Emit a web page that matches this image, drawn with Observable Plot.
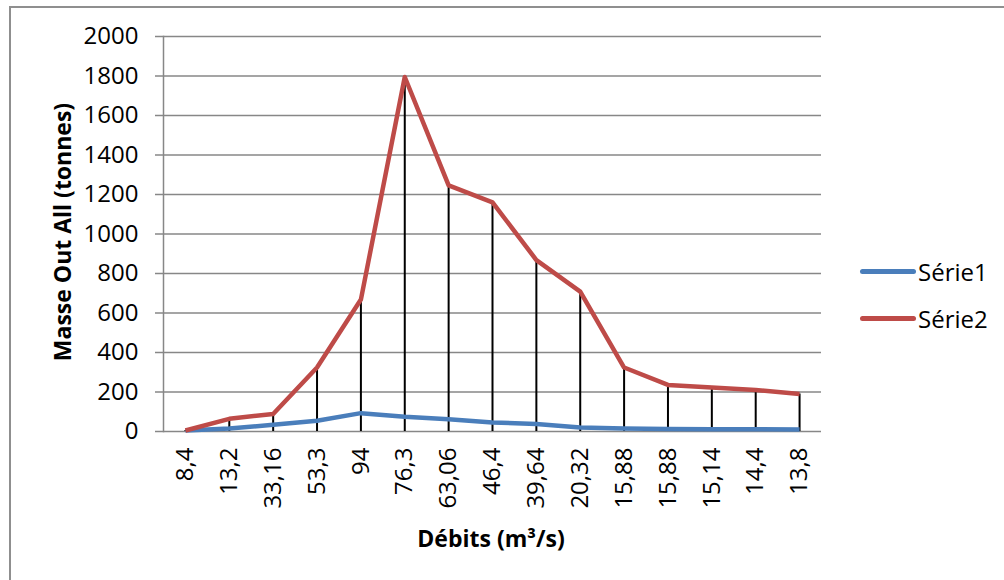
<!DOCTYPE html>
<html>
<head>
<meta charset="utf-8">
<script src="https://cdn.jsdelivr.net/npm/d3@7"></script>
<script src="https://cdn.jsdelivr.net/npm/@observablehq/plot@0.6"></script>
<style>
  html, body { margin: 0; padding: 0; background: #fff; }
  #wrap { position: relative; width: 1004px; height: 580px; overflow: hidden; font-family: "Open Sans", Lato, sans-serif; }
  #border { position: absolute; left: 9px; top: 6px; width: 1100px; height: 700px; border-left: 2px solid #8f8f8f; border-top: 2px solid #8f8f8f; }
  #chart { position: absolute; left: 0; top: 0; }
  .ttl { position: absolute; font-weight: bold; font-size: 23px; color: #000; white-space: nowrap; line-height: 1; }
  #xt { left: 491px; top: 538px; transform: translate(-50%, -50%); }
  #yt { left: 62px; top: 232px; transform: translate(-50%, -50%) rotate(-90deg); }
  #legend { position: absolute; left: 860px; top: 248px; font-size: 24px; }
  .li { display: flex; align-items: center; height: 47px; }
  .sw { width: 56px; height: 5px; border-radius: 3px; margin-right: 2px; }
</style>
</head>
<body>
<div id="wrap">
  <div id="border"></div>
  <div id="chart"></div>
  <div class="ttl" id="yt">Masse Out All (tonnes)</div>
  <div class="ttl" id="xt">Débits (m³/s)</div>
  <div id="legend"></div>
</div>
<script>
const debits = ["8,4","13,2","33,16","53,3","94","76,3","63,06","46,4","39,64","20,32","15,88","15,88","15,14","14,4","13,8"];
const serie1 = [5, 15, 34, 54, 93, 75, 62, 46, 38, 20, 15, 13, 12, 11, 10];
const serie2 = [5, 64, 89, 324, 668, 1795, 1246, 1160, 868, 708, 324, 236, 223, 210, 190];
const yTicks = [0, 200, 400, 600, 800, 1000, 1200, 1400, 1600, 1800, 2000];
const seriesNames = ["Série1", "Série2"];
const seriesColors = ["#4a7ebb", "#be4b48"];

const idx = debits.map((d, i) => i);
const rows = [];
[serie1, serie2].forEach((s, k) => s.forEach((v, i) => rows.push({i, v, serie: seriesNames[k]})));
const red = serie2.map((v, i) => ({i, v}));

const chart = Plot.plot({
  width: 1004,
  height: 580,
  marginLeft: 163,
  marginRight: 183,
  marginTop: 36,
  marginBottom: 149,
  style: {fontFamily: "'Open Sans', Lato, sans-serif", fontSize: "24px", color: "#000", background: "transparent", overflow: "visible"},
  x: {type: "point", domain: idx, padding: 0.5, round: false, label: null},
  y: {domain: [0, 2000], label: null},
  color: {domain: seriesNames, range: seriesColors},
  marks: [
    Plot.ruleY(yTicks, {stroke: "#878787", strokeWidth: 1.5}),
    Plot.frame({anchor: "left", stroke: "#878787", strokeWidth: 1.5}),
    Plot.axisY({ticks: yTicks, tickSize: 8, tickPadding: 17, tickFormat: d => String(d), stroke: "#878787", strokeWidth: 1.5, label: null, fill: "#000"}),
    Plot.axisX({tickRotate: -90, tickSize: 0, tickPadding: 16, tickFormat: i => debits[i], label: null, fill: "#000"}),
    Plot.ruleX(red, {x: "i", y1: 0, y2: "v", stroke: "#000", strokeWidth: 2}),
    Plot.line(rows, {x: "i", y: "v", z: "serie", stroke: "serie", strokeWidth: 4.5, strokeLinejoin: "round", strokeLinecap: "butt"})
  ]
});
document.getElementById("chart").appendChild(chart);

const lg = document.getElementById("legend");
seriesNames.forEach((n, k) => {
  const d = document.createElement("div");
  d.className = "li";
  d.innerHTML = `<span class="sw" style="background:${seriesColors[k]}"></span><span>${n}</span>`;
  lg.appendChild(d);
});
</script>
</body>
</html>
